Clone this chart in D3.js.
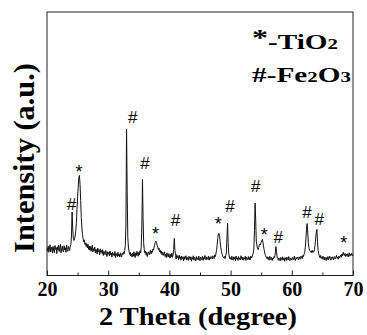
<!DOCTYPE html>
<html>
<head>
<meta charset="utf-8">
<script src="https://cdn.jsdelivr.net/npm/d3@7"></script>
<style>
  html, body { margin: 0; padding: 0; background: #fff; }
  svg { display: block; }
</style>
</head>
<body>
<div id="chart"></div>
<script>
// XRD scan, fixed step
const thetaStart = 20;
const thetaStep = 0.1;
const intensity = [
  104, 92, 112, 88, 101, 117, 90, 98, 108, 85,
  110, 95, 87, 114, 99, 106, 83, 109, 96, 115,
  91, 103, 118, 86, 100, 111, 94, 89, 113, 97,
  105, 88, 116, 99, 92, 110, 102, 95, 112, 118,
  150, 241, 180, 140, 133, 138, 150, 170, 200, 250,
  300, 335, 372, 380, 345, 285, 220, 180, 155, 140,
  128, 135, 118, 124, 110, 121, 105, 118, 99, 112,
  96, 110, 92, 105, 115, 89, 102, 94, 108, 86,
  100, 93, 81, 104, 90, 97, 78, 101, 88, 95,
  83, 98, 76, 92, 86, 79, 95, 84, 72, 90,
  81, 88, 74, 93, 79, 85, 70, 89, 77, 83,
  75, 91, 68, 84, 78, 72, 88, 74, 81, 70,
  86, 76, 71, 84, 79, 90, 82, 95, 115, 200,
  555, 320, 145, 108, 92, 80, 88, 74, 82, 70,
  85, 73, 90, 78, 68, 86, 76, 92, 81, 73,
  88, 79, 94, 85, 110, 190, 365, 215, 120, 98,
  85, 92, 77, 88, 72, 84, 90, 79, 86, 95,
  82, 93, 88, 100, 96, 108, 118, 126, 130, 124,
  115, 108, 98, 104, 90, 95, 84, 92, 79, 88,
  76, 85, 90, 72, 81, 68, 86, 77, 70, 83,
  74, 66, 80, 71, 85, 69, 78, 100, 141, 95,
  76, 62, 79, 68, 73, 60, 77, 65, 71, 58,
  74, 64, 69, 56, 72, 61, 67, 75, 59, 70,
  63, 57, 73, 66, 60, 71, 54, 68, 62, 75,
  58, 69, 64, 55, 72, 61, 67, 59, 74, 63,
  56, 70, 65, 60, 73, 57, 68, 62, 76, 64,
  59, 71, 66, 61, 74, 58, 69, 63, 72, 67,
  62, 75, 68, 64, 78, 72, 82, 95, 115, 140,
  158, 160, 148, 128, 105, 92, 80, 74, 70, 66,
  72, 64, 76, 85, 140, 199, 125, 82, 70, 63,
  68, 60, 73, 65, 58, 71, 62, 69, 56, 74,
  63, 67, 57, 72, 61, 66, 59, 75, 64, 60,
  70, 58, 67, 62, 73, 57, 69, 64, 60, 72,
  61, 68, 59, 74, 66, 70, 78, 85, 100, 170,
  275, 210, 130, 112, 104, 98, 106, 115, 120, 118,
  126, 133, 137, 124, 108, 95, 84, 76, 70, 65,
  71, 62, 68, 58, 73, 64, 60, 69, 57, 66,
  63, 72, 68, 85, 110, 92, 70, 64, 58, 67,
  61, 55, 69, 63, 58, 71, 60, 66, 54, 68,
  62, 57, 70, 64, 59, 72, 61, 56, 67, 63,
  58, 69, 64, 60, 73, 62, 57, 68, 63, 70,
  65, 59, 71, 66, 62, 74, 68, 64, 76, 72,
  80, 88, 105, 135, 175, 197, 165, 125, 105, 95,
  92, 88, 94, 86, 95, 89, 90, 98, 115, 140,
  165, 175, 128, 95, 82, 74, 68, 76, 65, 71,
  62, 73, 66, 59, 70, 64, 57, 68, 61, 72,
  60, 66, 74, 63, 58, 69, 65, 71, 59, 67,
  72, 63, 68, 76, 65, 70, 62, 74, 67, 71,
  78, 69, 82, 74, 88, 80, 76, 84, 72, 80,
  75, 83, 70, 79, 86, 73, 80, 77, 84, 74,
  78
];

const majorTicks = [20, 30, 40, 50, 60, 70];
const minorTicks = [25, 35, 45, 55, 65];

// peak markers: position (2theta), level (same units as intensity), symbol
const labelTheta = [24.0, 25.25, 34.0, 36.0, 37.75, 41.0, 48.0, 49.9, 54.1, 55.5, 57.8, 62.5, 64.5, 68.5];
const labelLevel = [273, 410, 601, 428, 174, 212, 213, 266, 342, 171, 148, 241, 216, 140];
const labelSymbol = ["#", "*", "#", "#", "*", "#", "*", "#", "#", "*", "#", "#", "#", "*"];

const width = 367;
const height = 335;
const marginLeft = 47;
const marginRight = 14;
const marginTop = 12;
const marginBottom = 59;

const serif = "'Liberation Serif', 'Times New Roman', serif";
const sans = "'Liberation Sans', Arial, sans-serif";

const svg = d3.select("#chart").append("svg")
  .attr("width", width)
  .attr("height", height);

const x = d3.scaleLinear().domain([20, 70]).range([marginLeft, width - marginRight]);
const y = d3.scaleLinear().domain([0, 1000]).range([height - marginBottom - 0.5, marginTop]);

// scale factor so a text spans the wanted length
function fit(text, target) {
  const w = text.node().getBBox().width;
  return w > 0 ? target / w : 1;
}

// the trace
const line = d3.line()
  .x((d, i) => x(thetaStart + i * thetaStep))
  .y(d => y(d));

svg.append("path")
  .datum(intensity)
  .attr("fill", "none")
  .attr("stroke", "#111")
  .attr("stroke-width", 1)
  .attr("stroke-linejoin", "round")
  .attr("d", line);

// frame
svg.append("rect")
  .attr("x", x(20))
  .attr("y", marginTop)
  .attr("width", x(70) - x(20))
  .attr("height", y(0) - marginTop)
  .attr("fill", "none")
  .attr("stroke", "#222")
  .attr("stroke-width", 1);

// bottom axis, ticks pointing in
const gx = svg.append("g")
  .attr("transform", `translate(0,${y(0)})`)
  .call(d3.axisBottom(x).tickValues(majorTicks).tickSize(-5).tickPadding(6).tickFormat(d3.format("d")));
const gxMinor = svg.append("g")
  .attr("transform", `translate(0,${y(0)})`)
  .call(d3.axisBottom(x).tickValues(minorTicks).tickSize(-3).tickFormat(""));
[gx, gxMinor].forEach(g => {
  g.select(".domain").remove();
  g.selectAll(".tick line").attr("stroke", "#222");
});
gx.attr("font-family", serif).attr("font-size", 20).attr("font-weight", "bold");
gx.selectAll(".tick text")
  .attr("font-family", serif)
  .attr("font-weight", "bold")
  .attr("font-size", 20)
  .attr("fill", "#000");

// axis titles
const xt = svg.append("g");
const xtText = xt.append("text")
  .attr("text-anchor", "middle")
  .attr("font-family", serif)
  .attr("font-weight", "bold")
  .attr("font-size", 26)
  .attr("fill", "#000")
  .text("2 Theta (degree)");
xt.attr("transform", `translate(198,325) scale(${fit(xtText, 198)},1)`);

const yt = svg.append("g");
const ytText = yt.append("text")
  .attr("text-anchor", "middle")
  .attr("font-family", serif)
  .attr("font-weight", "bold")
  .attr("font-size", 29)
  .attr("fill", "#000")
  .text("Intensity (a.u.)");
yt.attr("transform", `translate(34,158) rotate(-90) scale(${fit(ytText, 190)},1)`);

// peak markers
svg.append("g")
  .selectAll("text")
  .data(labelTheta)
  .join("text")
  .attr("x", d => x(d))
  .attr("y", (d, i) => y(labelLevel[i]))
  .attr("dy", (d, i) => labelSymbol[i] === "*" ? "0.6em" : "0.36em")
  .attr("text-anchor", "middle")
  .attr("font-family", sans)
  .attr("font-size", (d, i) => labelSymbol[i] === "*" ? 18 : 17)
  .attr("fill", "#000")
  .text((d, i) => labelSymbol[i]);

// legend
function legendLine(parts, bx, by, target) {
  const g = svg.append("g");
  const t = g.append("text")
    .attr("font-family", serif)
    .attr("font-weight", "bold")
    .attr("fill", "#000");
  parts.forEach(p => {
    t.append("tspan")
      .attr("font-size", p[1])
      .attr("dy", p[2])
      .text(p[0]);
  });
  g.attr("transform", `translate(${bx},${by}) scale(${fit(t, target)},1)`);
}
legendLine([["*", 23, -4], ["-TiO", 21, 4], ["2", 15, 0]], 252, 48.5, 86);
legendLine([["#-Fe", 21, 0], ["2", 15, 0], ["O", 21, 0], ["3", 15, 0]], 252, 82, 99);
</script>
</body>
</html>
